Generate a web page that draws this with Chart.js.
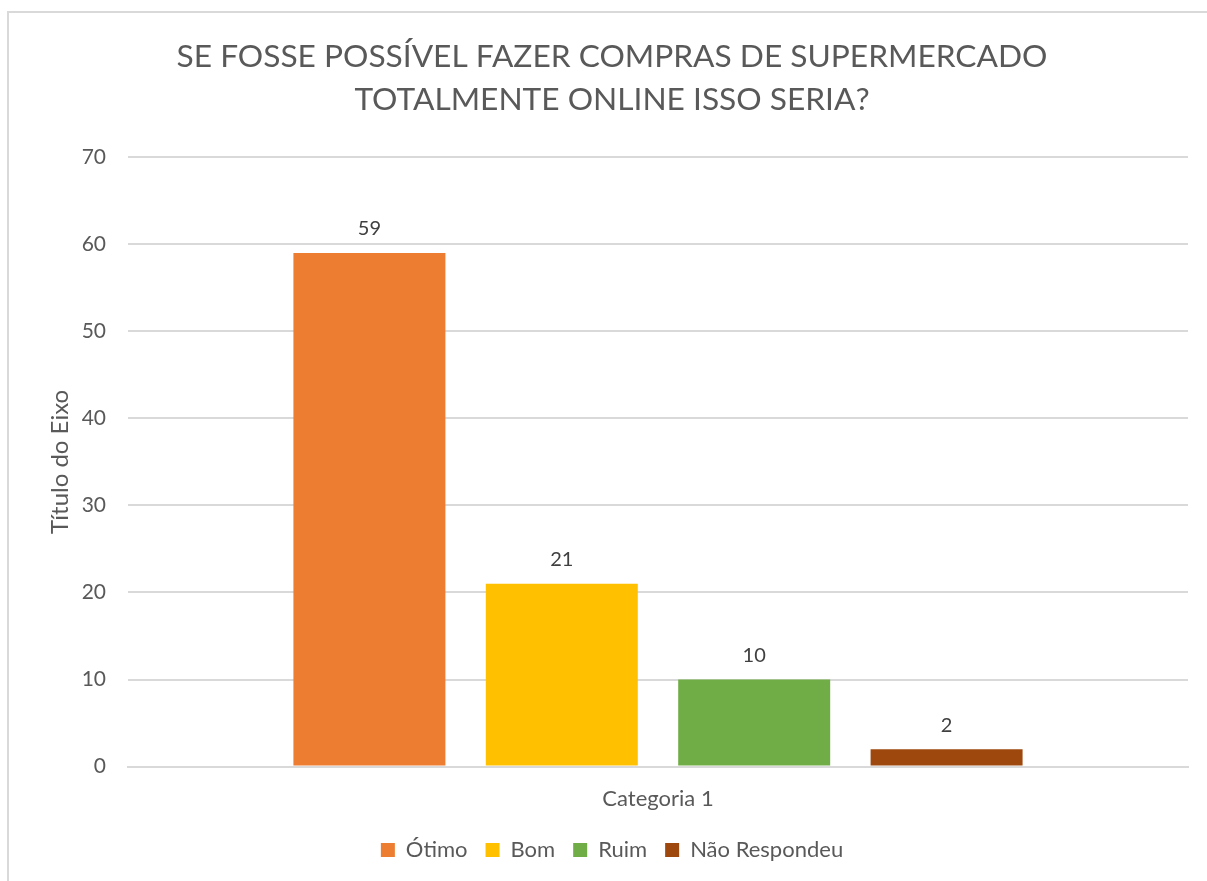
<!DOCTYPE html>
<html lang="pt-BR">
<head>
<meta charset="utf-8">
<title>Compras de supermercado online</title>
<script src="https://cdn.jsdelivr.net/npm/chart.js@4/dist/chart.umd.min.js"></script>
<style>
  html, body { margin: 0; padding: 0; background: #fff; overflow: hidden; }
  #frame {
    position: absolute; left: 7px; top: 11px;
    width: 1220px; height: 900px;
    border: 2px solid #d9d9d9; box-sizing: border-box;
  }
  #wrap { position: absolute; left: 0; top: 0; width: 1207px; height: 881px; }
</style>
</head>
<body>
<div id="frame"></div>
<div id="wrap"><canvas id="chart" width="1207" height="881"></canvas></div>
<script>
const categories = ['Categoria 1'];
const seriesNames = ['Ótimo', 'Bom', 'Ruim', 'Não Respondeu'];
const seriesValues = [[59], [21], [10], [2]];
const seriesColors = ['#ED7D31', '#FFC000', '#70AD47', '#9E480E'];
const yTicks = [0, 10, 20, 30, 40, 50, 60, 70];

const FONT = 'Lato, "Open Sans", sans-serif';
const TEXT = '#595959';

// value labels above each bar
const barValues = {
  id: 'barValues',
  afterDatasetsDraw(chart) {
    const ctx = chart.ctx;
    ctx.save();
    ctx.font = '20px ' + FONT;
    ctx.fillStyle = '#404040';
    ctx.textAlign = 'center';
    ctx.textBaseline = 'middle';
    chart.data.datasets.forEach((ds, i) => {
      chart.getDatasetMeta(i).data.forEach((bar, j) => {
        ctx.fillText(String(ds.data[j]), bar.x, bar.y - 24);
      });
    });
    ctx.restore();
  }
};

new Chart(document.getElementById('chart').getContext('2d'), {
  type: 'bar',
  data: {
    labels: categories,
    datasets: seriesNames.map((name, i) => ({
      label: name,
      data: seriesValues[i],
      backgroundColor: seriesColors[i],
      borderWidth: 0,
      categoryPercentage: 0.726,
      barPercentage: 0.79
    }))
  },
  options: {
    responsive: false,
    animation: false,
    layout: { padding: { left: 36, right: 19, top: 12, bottom: 10 } },
    plugins: {
      tooltip: { enabled: false },
      title: {
        display: true,
        text: ['SE FOSSE POSSÍVEL FAZER COMPRAS DE SUPERMERCADO', 'TOTALMENTE ONLINE ISSO SERIA?'],
        color: TEXT,
        font: { family: FONT, size: 31.7, weight: 'normal', lineHeight: 1.36 },
        padding: { top: 23, bottom: 36 }
      },
      legend: {
        position: 'bottom',
        labels: {
          color: TEXT,
          font: { family: FONT, size: 22 },
          boxWidth: 14,
          boxHeight: 14,
          padding: 18
        }
      }
    },
    scales: {
      x: {
        // tighten the gap between the category label and the legend
        afterFit(scale) { scale.height -= 2; },
        grid: { display: false },
        border: { display: true, color: '#d9d9d9', width: 2 },
        ticks: { color: TEXT, font: { family: FONT, size: 22 }, padding: 11 }
      },
      y: {
        min: 0,
        max: 70,
        afterBuildTicks(scale) { scale.ticks = yTicks.map(v => ({ value: v })); },
        afterFit(scale) { scale.width = 92; },
        grid: { color: '#d9d9d9', lineWidth: 2, drawTicks: false },
        border: { display: false },
        ticks: { color: TEXT, font: { family: FONT, size: 21 }, padding: 22 },
        title: {
          display: true,
          text: 'Título do Eixo',
          color: TEXT,
          font: { family: FONT, size: 24 },
          padding: { top: 10 }
        }
      }
    }
  },
  plugins: [barValues]
});
</script>
</body>
</html>
